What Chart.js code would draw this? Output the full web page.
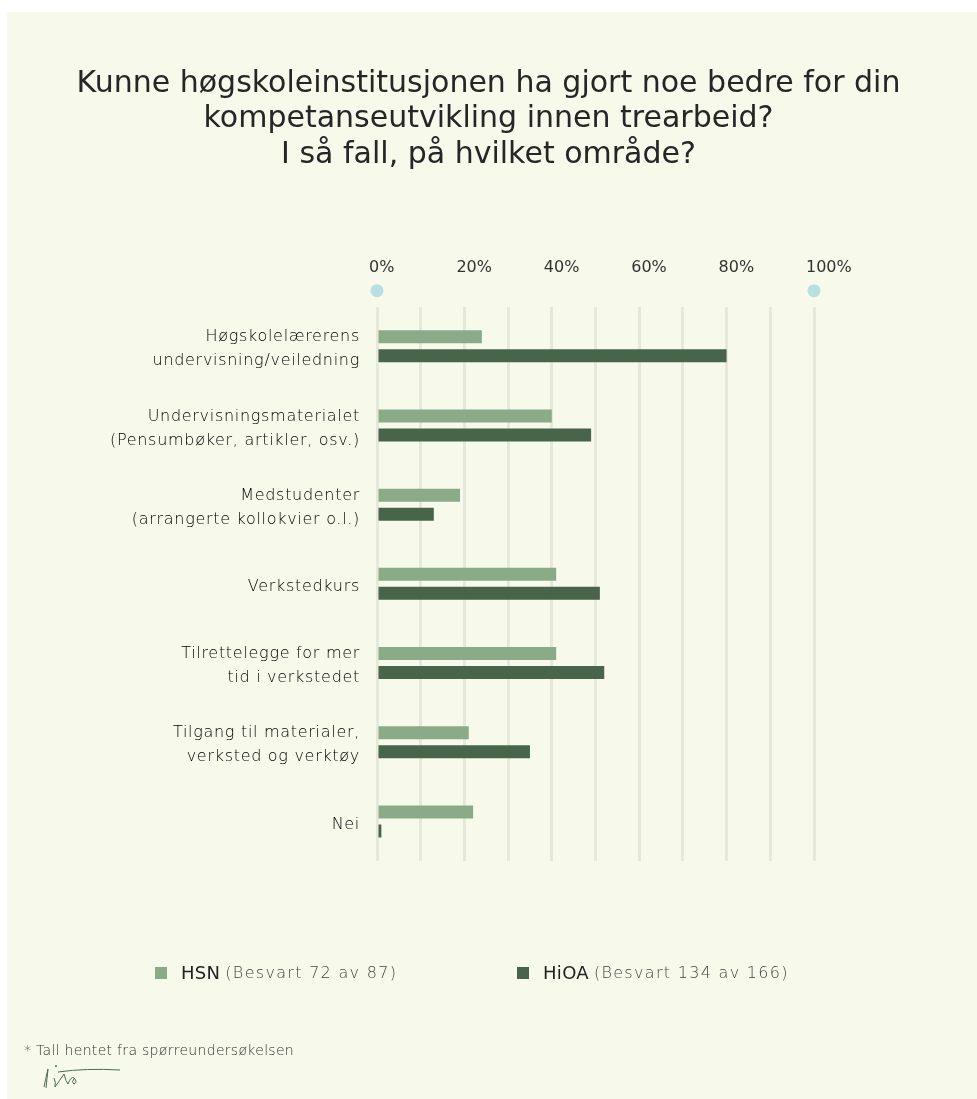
<!DOCTYPE html>
<html>
<head>
<meta charset="utf-8">
<script src="https://cdn.jsdelivr.net/npm/chart.js@4/dist/chart.umd.min.js"></script>
<style>
  html, body { margin: 0; padding: 0; background: #ffffff; }
  #wrap { position: relative; width: 977px; height: 1099px; }
  #wrap canvas { position: absolute; left: 0; top: 0; }
  .leg { position: absolute; top: 962px; display: flex; align-items: center; font-family: "DejaVu Sans", sans-serif; white-space: nowrap; }
  .leg .sw { width: 12px; height: 12px; margin-right: 14px; }
  .leg .nm { font-size: 18px; color: #222; font-weight: 400; letter-spacing: 0.3px; margin-right: 5px; }
  .leg .nt { font-size: 16px; color: #444; font-weight: 200; letter-spacing: 1.3px; }
  #note { position: absolute; left: 24px; top: 1042px; font-family: "DejaVu Sans", sans-serif; font-size: 14px; letter-spacing: 0.3px; color: #333; font-weight: 200; }
  #sig { position: absolute; left: 38px; top: 1061px; }
</style>
</head>
<body>
<div id="wrap">
  <canvas id="c" width="977" height="1099"></canvas>
  <div id="legend"></div>
  <div id="note">* Tall hentet fra spørreundersøkelsen</div>
  <svg id="sig" width="90" height="28" viewBox="0 0 90 28">
    <path d="M6 26 Q8 16 10 8 M10 8 Q9 18 8 27" stroke="#4b6b50" stroke-width="1" fill="none"/>
    <path d="M16 17 Q18 21 17 26 Q22 19 26 13 Q28 21 30 23 Q33 15 36 17 Q40 21 36 23 Q33 21 36 18" stroke="#4b6b50" stroke-width="1" fill="none"/>
    <circle cx="18" cy="5" r="1" fill="#4b6b50"/>
    <path d="M20 11 Q48 7 82 9" stroke="#4b6b50" stroke-width="1" fill="none"/>
  </svg>
</div>
<script>
const categories = [
  ["Høgskolelærerens", "undervisning/veiledning"],
  ["Undervisningsmaterialet", "(Pensumbøker, artikler, osv.)"],
  ["Medstudenter", "(arrangerte kollokvier o.l.)"],
  "Verkstedkurs",
  ["Tilrettelegge for mer", "tid i verkstedet"],
  ["Tilgang til materialer,", "verksted og verktøy"],
  "Nei"
];
const seriesNames = ["HSN", "HiOA"];
const seriesNotes = ["(Besvart 72 av 87)", "(Besvart 134 av 166)"];
const hsnValues  = [24, 40, 19, 41, 41, 21, 22];
const hioaValues = [80, 49, 13, 51, 52, 35, 1];
const tickValues = [0, 20, 40, 60, 80, 100];
const titleLines = [
  "Kunne høgskoleinstitusjonen ha gjort noe bedre for din",
  "kompetanseutvikling innen trearbeid?",
  "I så fall, på hvilket område?"
];
const colors = ["#8aab88", "#48654c"];

const bgPlugin = {
  id: 'bg',
  beforeDraw(chart) {
    const ctx = chart.ctx;
    ctx.save();
    ctx.fillStyle = '#ffffff';
    ctx.fillRect(0, 0, chart.width, chart.height);
    ctx.fillStyle = '#f7f9eb';
    ctx.fillRect(7, 12, chart.width - 7, chart.height - 12);
    ctx.restore();
    const ys = chart.scales.y;
    if (ys && !ys._spaced) {
      const orig = ys.drawLabels;
      ys.drawLabels = function(area) {
        const c = this.ctx;
        c.save();
        c.letterSpacing = '0.7px';
        orig.call(this, area);
        c.restore();
      };
      ys._spaced = true;
    }
  }
};

const dotsPlugin = {
  id: 'dots',
  afterDraw(chart) {
    const ctx = chart.ctx;
    const xs = chart.scales.x;
    ctx.save();
    ctx.fillStyle = '#b8e0e2';
    [tickValues[0], tickValues[tickValues.length - 1]].forEach(v => {
      ctx.beginPath();
      ctx.arc(xs.getPixelForValue(v), chart.chartArea.top - 16, 6.5, 0, Math.PI * 2);
      ctx.fill();
    });
    ctx.restore();
  }
};

const chart = new Chart(document.getElementById('c'), {
  type: 'bar',
  data: {
    labels: categories,
    datasets: [
      { label: seriesNames[0], data: hsnValues, backgroundColor: colors[0] },
      { label: seriesNames[1], data: hioaValues, backgroundColor: colors[1] }
    ]
  },
  options: {
    indexAxis: 'y',
    responsive: false,
    animation: false,
    categoryPercentage: 0.48,
    barPercentage: 0.684,
    layout: { padding: { left: 0, right: 0, top: 0, bottom: 238 } },
    plugins: {
      legend: { display: false },
      tooltip: { enabled: false },
      title: {
        display: true,
        text: titleLines,
        color: '#262626',
        font: { family: '"DejaVu Sans", sans-serif', size: 30, weight: '400', lineHeight: 1.183 },
        padding: { top: 66, bottom: 57 }
      }
    },
    scales: {
      x: {
        position: 'top',
        min: 0,
        max: 100,
        ticks: {
          stepSize: 10,
          autoSkip: false,
          maxRotation: 0,
          align: 'start',
          labelOffset: -8,
          padding: 29,
          color: '#333',
          font: { family: '"DejaVu Sans", sans-serif', size: 16, weight: '400' },
          callback: (v) => tickValues.includes(v) ? v + '%' : ''
        },
        grid: { color: '#e6e8dc', lineWidth: 3, drawTicks: false },
        border: { display: false }
      },
      y: {
        grid: { display: false },
        border: { display: false },
        afterFit: (s) => { s.width = 377; },
        ticks: {
          padding: 9,
          labelOffset: 3,
          color: '#000000',
          font: { family: '"DejaVu Sans", sans-serif', size: 16, weight: '200', lineHeight: 1.5 }
        }
      },
      y2: {
        type: 'category',
        position: 'right',
        labels: categories,
        grid: { display: false },
        border: { display: false },
        ticks: { display: false },
        afterFit: (s) => { s.width = 163; }
      }
    }
  },
  plugins: [bgPlugin, dotsPlugin]
});

const legendEl = document.getElementById('legend');
const legLeft = [155, 517];
chart.data.datasets.forEach((ds, i) => {
  const item = document.createElement('div');
  item.className = 'leg';
  item.style.left = legLeft[i] + 'px';
  item.innerHTML = '<span class="sw" style="background:' + ds.backgroundColor + '"></span>' +
    '<span class="nm">' + ds.label + '</span><span class="nt">' + seriesNotes[i] + '</span>';
  legendEl.appendChild(item);
});
</script>
</body>
</html>
